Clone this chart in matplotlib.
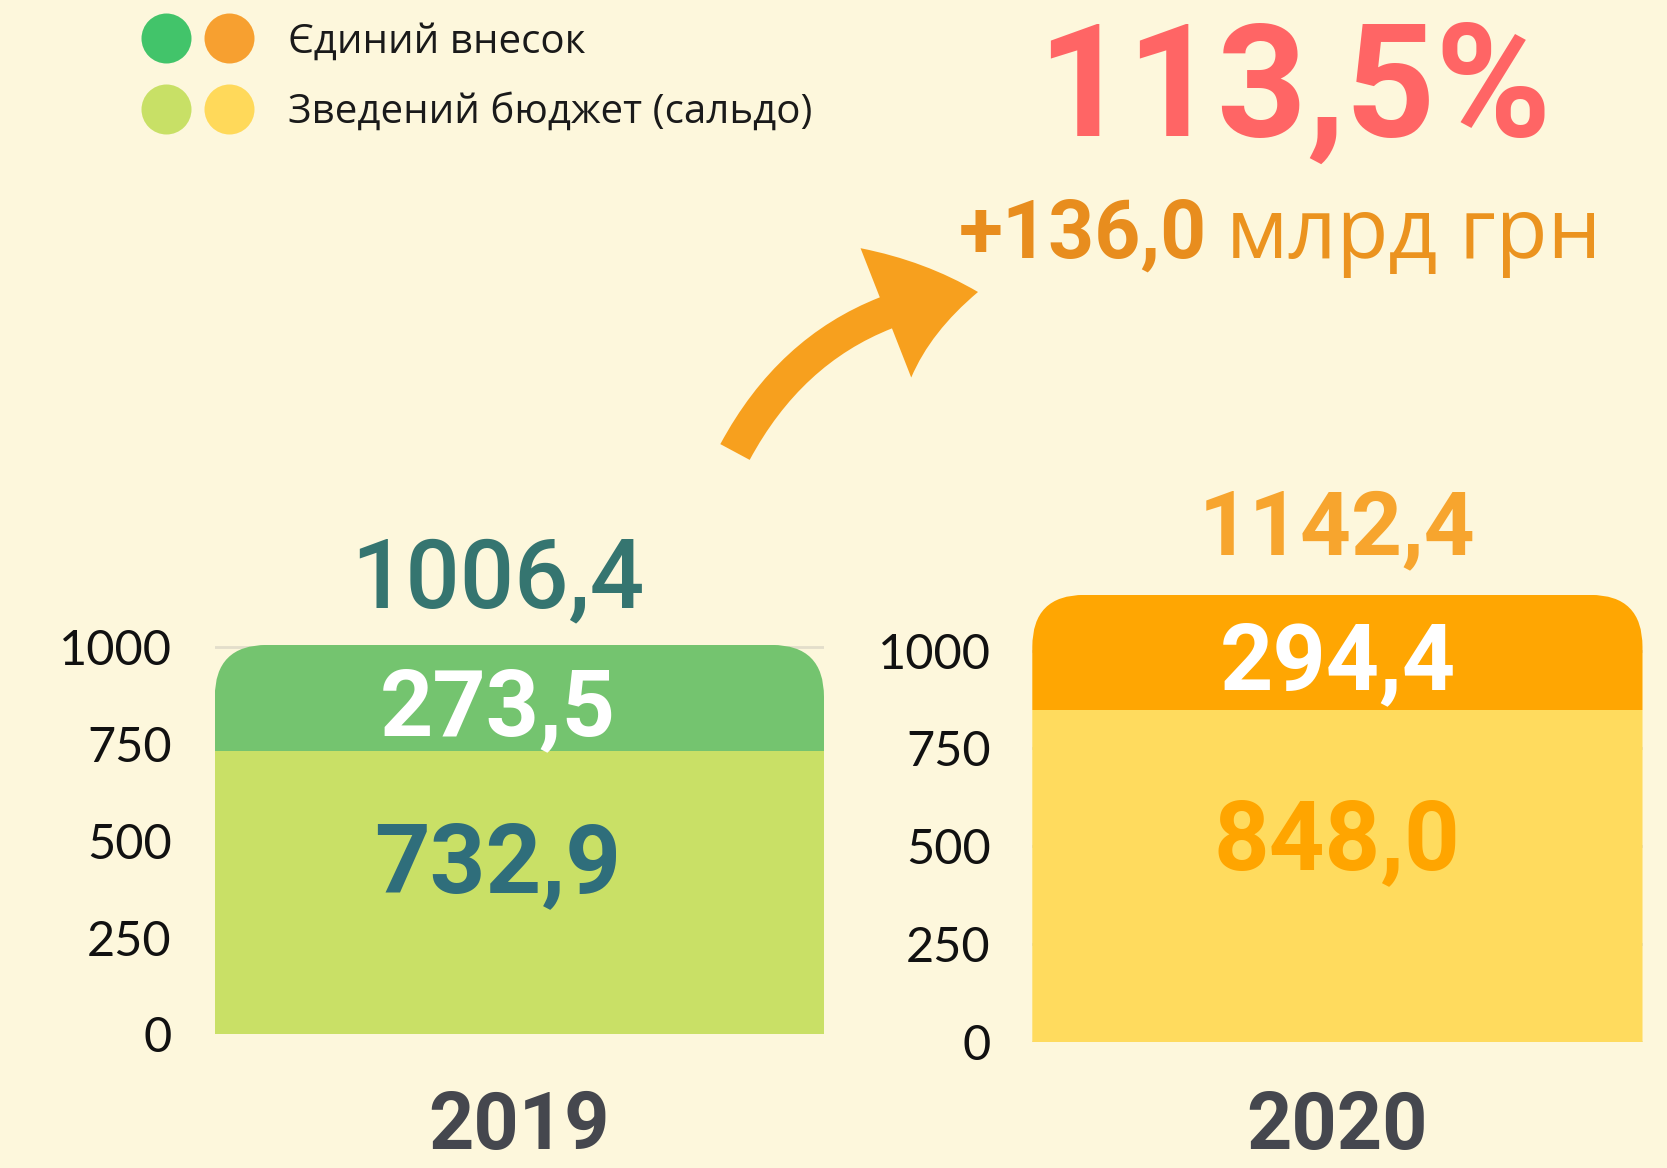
import matplotlib
matplotlib.use('Agg')
import matplotlib.pyplot as plt
from matplotlib.patches import FancyBboxPatch, FancyArrowPatch
from matplotlib.lines import Line2D
from matplotlib.legend_handler import HandlerTuple

# ---------------- data ----------------
years = ['2019', '2020']
budget = [732.9, 848.0]          # Зведений бюджет (сальдо)
esv = [273.5, 294.4]             # Єдиний внесок
totals = [1006.4, 1142.4]
budget_labels = ['732,9', '848,0']
esv_labels = ['273,5', '294,4']
total_labels = ['1006,4', '1142,4']
yticks = [0, 250, 500, 750, 1000]
ytick_labels = ['0', '250', '500', '750', '1000']
growth_pct = '113,5%'
growth_abs = '+136,0'
growth_unit = 'млрд грн'
legend_labels = ['Єдиний внесок', 'Зведений бюджет (сальдо)']

# ---------------- style ----------------
plt.rcParams['font.family'] = ['Roboto', 'DejaVu Sans']
BG = '#FDF7DC'
W, H = 1667, 1168
fig = plt.figure(figsize=(W / 100, H / 100), dpi=100)
fig.patch.set_facecolor(BG)


def fx(px):
    return px / W


def fy(py):
    return 1 - py / H


panels = [
    dict(x0=214.8, yb=1034.4, w=609.2, ppu=0.387,
         top_c='#74C46F', base_c='#C9E066', total_c='#357570',
         base_txt='#2F6E7B', tpad=31, xpad=40),
    dict(x0=1032.3, yb=1041.8, w=610.2, ppu=0.3912,
         top_c='#FFA602', base_c='#FFDB5E', total_c='#F7A52E',
         base_txt='#FFA500', tpad=30, xpad=34.6),
]
YMAX = 1200

for i, p in enumerate(panels):
    ax = fig.add_axes([fx(p['x0']), (H - p['yb']) / H, p['w'] / W, YMAX * p['ppu'] / H])
    ax.set_facecolor('none')
    ax.set_xlim(-0.5, 0.5)
    ax.set_ylim(0, YMAX)
    b1 = ax.bar(0, budget[i], width=1.0, color=p['base_c'], zorder=2)
    b2 = ax.bar(0, esv[i], bottom=budget[i], width=1.0, color=p['top_c'], zorder=2)

    # rounded top corners via clip path
    r_px = 52
    clip = FancyBboxPatch((-0.5, -600), 1.0, totals[i] + 600,
                          boxstyle=f'round,pad=0,rounding_size={r_px / p["w"]}',
                          mutation_aspect=p['w'] / p['ppu'],
                          transform=ax.transData)
    for patch in list(b1.patches) + list(b2.patches):
        patch.set_clip_path(clip)

    ax.set_yticks(yticks, ytick_labels)
    ax.set_xticks([0], [years[i]])
    ax.grid(axis='y', color='#E3DECB', lw=2)
    ax.grid(axis='x', visible=False)
    ax.set_axisbelow(True)
    for s in ax.spines.values():
        s.set_visible(False)
    ax.tick_params(axis='y', length=0, pad=p['tpad'], labelsize=35, labelcolor='#111111')
    ax.tick_params(axis='x', length=0, pad=p['xpad'], labelsize=57, labelcolor='#45474E')
    for lab in ax.get_yticklabels():
        lab.set_fontfamily(['Lato', 'DejaVu Sans'])
        lab.set_fontweight('normal')
    for lab in ax.get_xticklabels():
        lab.set_fontweight('bold')

    dx = -0.035 if i == 0 else 0.0
    ax.text(dx, budget[i] * 0.63, budget_labels[i], ha='center', va='center_baseline',
            fontsize=70, fontweight='bold', color=p['base_txt'], zorder=3)
    ax.text(dx, budget[i] + esv[i] / 2 - 5, esv_labels[i], ha='center', va='center_baseline',
            fontsize=67, fontweight='bold', color='white', zorder=3)
    ax.annotate(total_labels[i], xy=(dx, totals[i]), xytext=(0, 74),
                textcoords='offset pixels', ha='center', va='center_baseline',
                fontsize=69 if i == 0 else 64, fontweight='bold' if i == 1 else 'medium',
                color=p['total_c'], annotation_clip=False)

# ---------------- headline ----------------
fig.text(fx(1294), fy(136), growth_pct, ha='center', va='baseline', fontsize=113,
         fontweight='bold', color='#FF6565')
fig.text(fx(1207), fy(258), growth_abs, ha='right', va='baseline', fontsize=58,
         fontweight='bold', color='#E88D1E')
fig.text(fx(1226), fy(258), growth_unit, ha='left', va='baseline', fontsize=61,
         fontweight='normal', color='#EB931F', family=['Open Sans', 'DejaVu Sans'])

# ---------------- arrow ----------------
arrow = FancyArrowPatch((fx(735), fy(452)), (fx(978), fy(292)),
                        transform=fig.transFigure,
                        connectionstyle='arc3,rad=-0.27',
                        arrowstyle='simple,head_length=6.8,head_width=10,tail_width=2.4',
                        mutation_scale=10, shrinkA=0, shrinkB=0,
                        color='#F7A01E', lw=0)
fig.add_artist(arrow)

# ---------------- legend ----------------
ms = 36
h_green = Line2D([], [], marker='o', ls='none', ms=ms, mfc='#42C46A', mew=0)
h_orange = Line2D([], [], marker='o', ls='none', ms=ms, mfc='#F7A030', mew=0)
h_lgreen = Line2D([], [], marker='o', ls='none', ms=ms, mfc='#C8E066', mew=0)
h_yellow = Line2D([], [], marker='o', ls='none', ms=ms, mfc='#FFD95A', mew=0)
fig.legend([(h_green, h_orange), (h_lgreen, h_yellow)], legend_labels,
           handler_map={tuple: HandlerTuple(ndivide=None, pad=0)},
           loc='upper left', bbox_to_anchor=(fx(134.5), fy(22)),
           frameon=False, borderpad=0, borderaxespad=0,
           handlelength=3.14, handletextpad=0.66, labelspacing=0.75,
           prop={'family': ['Open Sans', 'DejaVu Sans'], 'size': 29},
           labelcolor='#1A1A1A')

fig.savefig('out.png', dpi=100, facecolor=BG)
